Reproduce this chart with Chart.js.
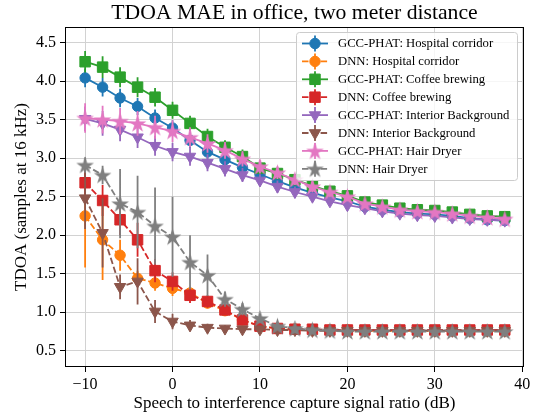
<!DOCTYPE html>
<html><head><meta charset="utf-8">
<script src="https://cdn.jsdelivr.net/npm/chart.js@4.4.1/dist/chart.umd.min.js"></script>
<style>html,body{margin:0;padding:0;background:#fff}#wrap{width:542px;height:417px}</style>
</head><body><div id="wrap"><canvas id="c" width="542" height="417"></canvas></div>
<script>
// ---------- data ----------
const snr = [-10,-8,-6,-4,-2,0,2,4,6,8,10,12,14,16,18,20,22,24,26,28,30,32,34,36,38];
const xTicks = [-10,0,10,20,30,40];
const yTicks = [0.5,1.0,1.5,2.0,2.5,3.0,3.5,4.0,4.5];

const seriesLabels = [
  "GCC-PHAT: Hospital corridor",
  "DNN: Hospital corridor",
  "GCC-PHAT: Coffee brewing",
  "DNN: Coffee brewing",
  "GCC-PHAT: Interior Background",
  "DNN: Interior Background",
  "GCC-PHAT: Hair Dryer",
  "DNN: Hair Dryer"
];

const gccHospital    = [4.04,3.92,3.78,3.67,3.52,3.39,3.23,3.08,2.98,2.88,2.79,2.70,2.62,2.55,2.49,2.44,2.37,2.33,2.30,2.28,2.27,2.25,2.22,2.20,2.19];
const gccHospitalErr = [0.12,0.12,0.12,0.11,0.11,0.10,0.10,0.09,0.09,0.08,0.08,0.07,0.07,0.06,0.06,0.05,0.05,0.05,0.04,0.04,0.04,0.04,0.04,0.04,0.04];
const dnnHospital    = [2.25,1.94,1.74,1.44,1.38,1.31,1.25,1.12,1.02,0.90,0.82,0.79,0.78,0.77,0.77,0.77,0.76,0.76,0.76,0.76,0.76,0.76,0.76,0.76,0.76];
const dnnHospitalErr = [0.67,0.52,0.20,0.10,0.10,0.10,0.08,0.07,0.06,0.05,0.04,0.03,0.03,0.03,0.03,0.03,0.03,0.03,0.03,0.03,0.03,0.03,0.03,0.03,0.03];
const gccCoffee      = [4.25,4.18,4.05,3.92,3.79,3.62,3.45,3.28,3.14,3.02,2.87,2.80,2.72,2.64,2.57,2.51,2.43,2.39,2.35,2.33,2.32,2.30,2.27,2.25,2.24];
const gccCoffeeErr   = [0.14,0.14,0.13,0.13,0.12,0.11,0.10,0.10,0.09,0.09,0.08,0.07,0.07,0.06,0.06,0.05,0.05,0.05,0.04,0.04,0.04,0.04,0.04,0.04,0.04];
const dnnCoffee      = [2.68,2.45,2.20,1.94,1.54,1.40,1.22,1.14,1.03,0.90,0.82,0.79,0.78,0.78,0.77,0.77,0.77,0.77,0.77,0.77,0.77,0.77,0.77,0.77,0.77];
const dnnCoffeeErr   = [0.15,0.20,0.20,0.22,0.15,0.12,0.10,0.08,0.06,0.05,0.04,0.03,0.03,0.03,0.03,0.03,0.03,0.03,0.03,0.03,0.03,0.03,0.03,0.03,0.03];
const gccInterior    = [3.51,3.45,3.37,3.27,3.16,3.08,3.02,2.94,2.86,2.78,2.71,2.63,2.56,2.50,2.44,2.39,2.35,2.31,2.28,2.26,2.25,2.23,2.21,2.20,2.19];
const gccInteriorErr = [0.16,0.16,0.15,0.14,0.13,0.12,0.12,0.11,0.10,0.09,0.08,0.08,0.07,0.07,0.06,0.06,0.05,0.05,0.05,0.05,0.04,0.04,0.04,0.04,0.04];
const dnnInterior    = [2.48,2.03,1.33,1.40,1.01,0.88,0.83,0.80,0.79,0.78,0.78,0.77,0.77,0.76,0.76,0.76,0.76,0.76,0.76,0.76,0.76,0.76,0.76,0.76,0.76];
const dnnInteriorErr = [0.40,0.45,0.16,0.30,0.15,0.10,0.07,0.05,0.04,0.04,0.03,0.03,0.03,0.03,0.03,0.03,0.03,0.03,0.03,0.03,0.03,0.03,0.03,0.03,0.03];
const gccHair        = [3.52,3.50,3.48,3.45,3.40,3.35,3.27,3.19,3.10,2.99,2.89,2.81,2.72,2.63,2.56,2.50,2.41,2.37,2.33,2.31,2.30,2.28,2.25,2.23,2.21];
const gccHairErr     = [0.19,0.18,0.17,0.16,0.15,0.14,0.13,0.12,0.11,0.10,0.09,0.08,0.07,0.07,0.06,0.06,0.05,0.05,0.05,0.05,0.04,0.04,0.04,0.04,0.04];
const dnnHair        = [2.91,2.78,2.41,2.30,2.12,1.98,1.65,1.48,1.17,1.04,0.92,0.82,0.79,0.77,0.76,0.75,0.75,0.75,0.75,0.75,0.75,0.75,0.75,0.75,0.75];
const dnnHairErr     = [0.10,0.12,0.45,0.47,0.50,0.52,0.35,0.27,0.10,0.08,0.06,0.04,0.03,0.03,0.03,0.03,0.03,0.03,0.03,0.03,0.03,0.03,0.03,0.03,0.03];

const seriesValues = [gccHospital,dnnHospital,gccCoffee,dnnCoffee,gccInterior,dnnInterior,gccHair,dnnHair];
const seriesErrors = [gccHospitalErr,dnnHospitalErr,gccCoffeeErr,dnnCoffeeErr,gccInteriorErr,dnnInteriorErr,gccHairErr,dnnHairErr];
const seriesColors = ['#1f77b4','#ff7f0e','#2ca02c','#d62728','#9467bd','#8c564b','#e377c2','#7f7f7f'];
const seriesMarkers = ['circle','circle','square','square','tri','tri','star','star'];

// ---------- styling ----------
const FONT = "'Liberation Serif','Times New Roman',serif";
const DASH = [6.5, 2.8];

function starCanvas(color, size){
  const c = document.createElement('canvas');
  c.width = size; c.height = size;
  const g = c.getContext('2d');
  const R = size/2 - 0.3, r = R*0.382, cx = size/2, cy = size/2 + 0.8;
  g.beginPath();
  for (let k=0;k<10;k++){
    const a = -Math.PI/2 + k*Math.PI/5;
    const rr = (k%2) ? r : R;
    g.lineTo(cx + rr*Math.cos(a), cy + rr*Math.sin(a));
  }
  g.closePath();
  g.fillStyle = color; g.fill();
  return c;
}

function markerProps(kind, color){
  if (kind==='circle') return {pointStyle:'circle', pointRadius:5.2, pointRotation:0};
  if (kind==='square') return {pointStyle:'rect', pointRadius:7.4, pointRotation:0};
  if (kind==='tri') return {pointStyle:'triangle', pointRadius:6.6, pointRotation:180};
  return {pointStyle: starCanvas(color, 19), pointRadius:9, pointRotation:0};
}

const datasets = seriesLabels.map((lab,i)=>{
  const col = seriesColors[i];
  const isDnn = lab.startsWith('DNN');
  return Object.assign({
    label: lab,
    data: snr.map((x,j)=>({x:x, y:seriesValues[i][j]})),
    errors: seriesErrors[i],
    marker: seriesMarkers[i],
    borderColor: col,
    backgroundColor: col,
    pointBackgroundColor: col,
    pointBorderColor: col,
    pointBorderWidth: 1,
    borderWidth: 1.8,
    borderDash: isDnn ? DASH : [],
    tension: 0,
    order: -i,
    fill: false
  }, markerProps(seriesMarkers[i], col));
});

// error bars, drawn just before each dataset (keeps z-order)
const errorBars = {
  id:'errorBars',
  beforeDatasetDraw(chart, args){
    const ds = chart.data.datasets[args.index];
    const meta = args.meta;
    const ys = chart.scales.y;
    const ctx = chart.ctx;
    const a = chart.chartArea;
    ctx.save();
    ctx.beginPath(); ctx.rect(a.left, a.top, a.right-a.left, a.bottom-a.top); ctx.clip();
    ctx.strokeStyle = ds.borderColor; ctx.lineWidth = 1.8; ctx.setLineDash([]);
    ctx.beginPath();
    meta.data.forEach((pt,j)=>{
      const v = ds.data[j].y, e = ds.errors[j];
      ctx.moveTo(pt.x, ys.getPixelForValue(v-e));
      ctx.lineTo(pt.x, ys.getPixelForValue(v+e));
    });
    ctx.stroke();
    ctx.restore();
  }
};

function drawMarker(ctx, kind, color, x, y){
  ctx.save();
  ctx.fillStyle = color; ctx.strokeStyle = color; ctx.lineWidth = 1; ctx.setLineDash([]);
  ctx.beginPath();
  if (kind==='circle'){ ctx.arc(x,y,5.2,0,Math.PI*2); }
  else if (kind==='square'){ const s=7.4*Math.SQRT1_2; ctx.rect(x-s,y-s,2*s,2*s); }
  else if (kind==='tri'){ const r=6.6; for(let k=0;k<3;k++){ const a=Math.PI + k*2*Math.PI/3; ctx.lineTo(x+Math.sin(a)*r, y-Math.cos(a)*r);} ctx.closePath(); }
  else { const img = starCanvas(color,19); ctx.drawImage(img, x-9.5, y-9.5); ctx.restore(); return; }
  ctx.fill(); ctx.stroke();
  ctx.restore();
}

const frameAndLegend = {
  id:'frameAndLegend',
  afterDatasetsDraw(chart){
    const ctx = chart.ctx, a = chart.chartArea;
    ctx.save();
    ctx.strokeStyle = '#000'; ctx.lineWidth = 1; ctx.setLineDash([]);
    ctx.strokeRect(Math.round(a.left)+0.5, Math.round(a.top)+0.5, Math.round(a.right-a.left)-1, Math.round(a.bottom-a.top)-1);
    ctx.restore();
  },
  afterDraw(chart){
    const ctx = chart.ctx;
    const x0 = 296.5, y0 = 32.5, w = 221, h = 148, rad = 3;
    ctx.save();
    ctx.beginPath();
    ctx.moveTo(x0+rad,y0); ctx.lineTo(x0+w-rad,y0); ctx.quadraticCurveTo(x0+w,y0,x0+w,y0+rad);
    ctx.lineTo(x0+w,y0+h-rad); ctx.quadraticCurveTo(x0+w,y0+h,x0+w-rad,y0+h);
    ctx.lineTo(x0+rad,y0+h); ctx.quadraticCurveTo(x0,y0+h,x0,y0+h-rad);
    ctx.lineTo(x0,y0+rad); ctx.quadraticCurveTo(x0,y0,x0+rad,y0); ctx.closePath();
    ctx.fillStyle = 'rgba(255,255,255,0.8)'; ctx.fill();
    ctx.strokeStyle = '#cccccc'; ctx.lineWidth = 1; ctx.stroke();
    chart.data.datasets.forEach((ds,i)=>{
      const y = 43.5 + i*17.9;
      ctx.strokeStyle = ds.borderColor; ctx.lineWidth = 1.8;
      ctx.setLineDash(ds.borderDash || []);
      ctx.beginPath(); ctx.moveTo(302,y); ctx.lineTo(328,y); ctx.stroke();
      ctx.setLineDash([]);
      ctx.beginPath(); ctx.moveTo(315,y-8); ctx.lineTo(315,y+8); ctx.stroke();
      drawMarker(ctx, ds.marker, ds.borderColor, 315, y);
      ctx.fillStyle = '#000'; ctx.font = "12.7px " + FONT;
      ctx.textBaseline = 'middle'; ctx.textAlign = 'left';
      ctx.fillText(ds.label, 338, y+0.5);
    });
    ctx.restore();
  }
};

Chart.defaults.color = '#000';
Chart.defaults.font.family = FONT;

new Chart(document.getElementById('c'), {
  type: 'line',
  data: { datasets },
  plugins: [errorBars, frameAndLegend],
  options: {
    responsive: false,
    animation: false,
    devicePixelRatio: 1,
    layout: { padding: { left: 0, right: 18, top: 0, bottom: 0 } },
    plugins: {
      legend: { display: false },
      tooltip: { enabled: false },
      title: {
        display: true,
        fullSize: false,
        text: 'TDOA MAE in office, two meter distance',
        font: { size: 21.7, family: FONT, weight: 'normal' },
        color: '#000',
        padding: { top: 0, bottom: 1.0 }
      }
    },
    scales: {
      x: {
        type: 'linear',
        min: -12.3, max: 40.2,
        afterFit(s){ s.height = 50; },
        afterBuildTicks(s){ s.ticks = xTicks.map(v=>({value:v})); },
        ticks: {
          font: { size: 16, family: FONT }, color: '#000', padding: 3,
          maxRotation: 0, autoSkip: false,
          callback: v => String(v).replace('-', '\u2212')
        },
        grid: { color: '#d2d2d2', lineWidth: 1, tickColor: '#000', tickLength: 5, tickWidth: 1 },
        border: { display: false },
        title: {
          display: true, text: 'Speech to interference capture signal ratio (dB)',
          font: { size: 17, family: FONT }, color: '#000', padding: { top: 0, bottom: 3 }
        }
      },
      y: {
        type: 'linear',
        min: 0.29, max: 4.70,
        afterFit(s){ s.width = 65; },
        afterBuildTicks(s){ s.ticks = yTicks.map(v=>({value:v})); },
        ticks: {
          font: { size: 16, family: FONT }, color: '#000', padding: 4,
          autoSkip: false,
          callback: v => Number(v).toFixed(1)
        },
        grid: { color: '#d2d2d2', lineWidth: 1, tickColor: '#000', tickLength: 5, tickWidth: 1 },
        border: { display: false },
        title: {
          display: true, text: 'TDOA (samples at 16 kHz)',
          font: { size: 17, family: FONT }, color: '#000', padding: { top: 11, bottom: 0 }
        }
      }
    }
  }
});
</script>
</body></html>
